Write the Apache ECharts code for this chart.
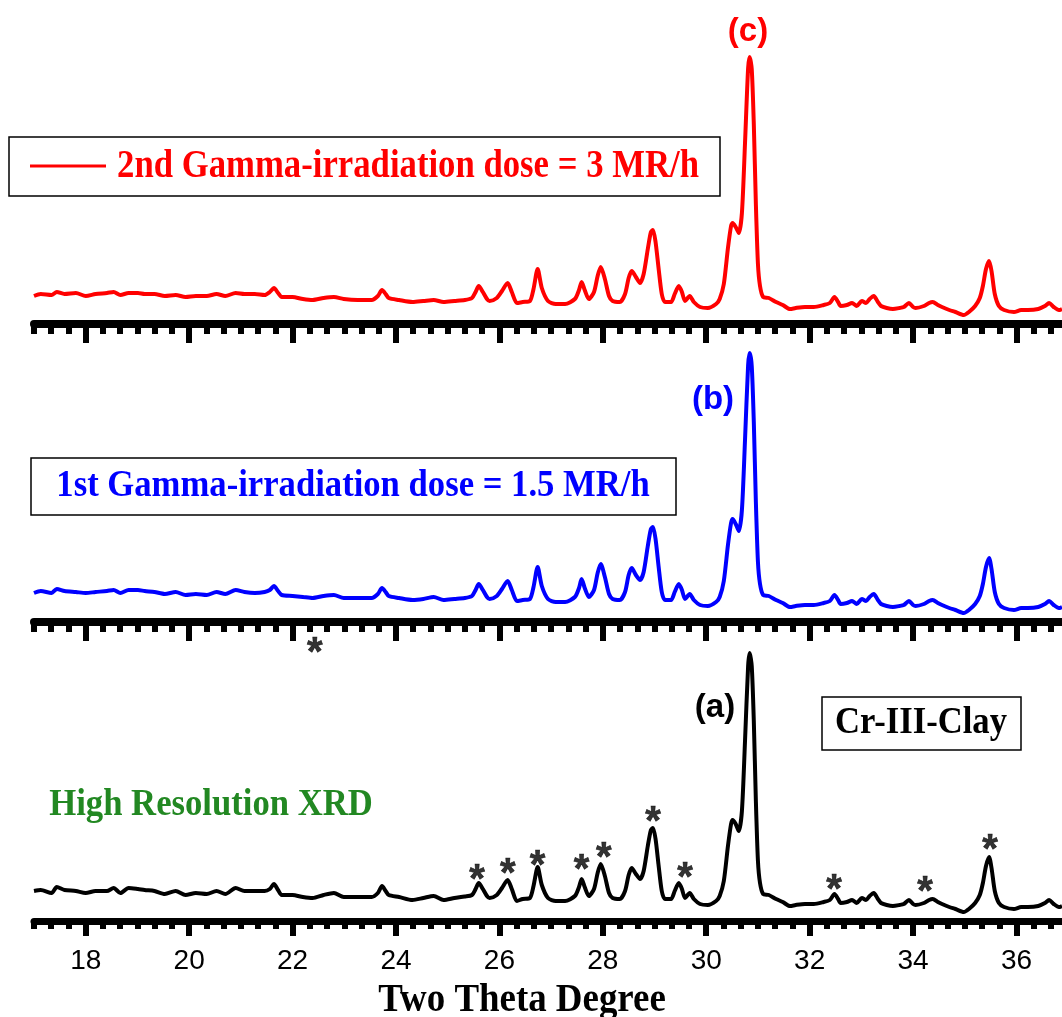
<!DOCTYPE html>
<html>
<head>
<meta charset="utf-8">
<script src="https://cdn.jsdelivr.net/npm/echarts@6/dist/echarts.min.js"></script>
<style>
html,body{margin:0;padding:0;background:#fff;}
#chart{width:1062px;height:1017px;}
</style>
</head>
<body>
<div id="chart"></div>
<script>
// ---- data ----
const twoTheta = [17.00,17.13,17.34,17.44,17.59,17.81,18.00,18.19,18.41,18.54,18.67,18.83,19.01,19.14,19.33,19.53,19.74,19.93,20.13,20.34,20.53,20.70,20.90,21.07,21.27,21.46,21.56,21.64,21.72,21.79,22.00,22.20,22.39,22.60,22.80,22.99,23.26,23.53,23.65,23.73,23.80,23.86,24.06,24.32,24.53,24.73,24.92,25.13,25.33,25.47,25.54,25.60,25.68,25.76,25.81,25.95,26.05,26.16,26.24,26.34,26.45,26.59,26.66,26.74,26.82,26.94,27.09,27.27,27.46,27.54,27.59,27.65,27.73,27.83,27.90,27.96,28.04,28.12,28.19,28.33,28.43,28.50,28.56,28.64,28.72,28.79,28.87,28.93,28.97,29.02,29.08,29.14,29.20,29.32,29.39,29.47,29.53,29.59,29.68,29.76,29.88,30.03,30.19,30.26,30.34,30.42,30.48,30.51,30.57,30.63,30.69,30.75,30.81,30.84,30.88,30.92,30.96,31.00,31.04,31.10,31.21,31.35,31.48,31.62,31.73,31.91,32.08,32.27,32.39,32.48,32.55,32.60,32.72,32.82,32.91,33.01,33.09,33.16,33.24,33.32,33.38,33.49,33.61,33.74,33.82,33.92,34.00,34.05,34.21,34.31,34.38,34.48,34.56,34.70,34.82,34.98,35.08,35.20,35.29,35.35,35.41,35.47,35.52,35.58,35.66,35.76,35.95,36.09,36.22,36.42,36.55,36.63,36.72,36.82,36.88];

// (a) Cr-III-Clay
const intensityA = [30,31,28,34,31,30,28,30,30,33,28,33,32,31,30,27,30,26,28,27,30,27,33,30,30,30,32,37,31,26,26,24,23,26,28,24,24,24,28,35,30,26,24,21,23,25,21,23,24.5,26,32,38,32,25,23,26,33,41,32,20,22,23,35,54,36,23,20,20,25,34,42,34,25,32,48,57,45,28,23,22,30,46,53,47,42,50,75,91,93,82,55,30,22,22,30,38,32,23,28,22,17,16,20,25,40,75,97,101,97,90,110,180,255,268,255,200,120,60,38,27,26,22,19,15,16,17,17,19,21,27,22,18,19,21,18,23,21,25,28,22,18,16,15,16,17,21,17,16,18,21,22,19,17,14,12,9,12,18,26,38,55,64,52,30,18,14,12,14,14,15,18,21,17,14,15];

// (b) 1st gamma dose
const intensityB = [29,31,29,33,31,30,29,30,31,32,29,32,32,31,30,28,30,27,28,27,30,28,32,30,29,30,32,36,31,27,26,25,24,26,27,24,24,24,28,34,30,26,24,22,23,25,22,23,24,26,32,38,32,25,23,26,33,41,32,21,22,23,35,55,36,23,20,20,25,34,43,34,25,32,49,58,45,28,23,22,30,47,54,47,42,50,76,93,95,83,55,30,22,22,30,38,32,23,28,22,17,16,20,25,41,77,99,103,98,91,112,182,257,269,256,200,120,60,38,27,26,22,19,15,16,17,17,19,21,27,22,18,19,21,18,23,21,25,28,22,18,16,15,16,17,21,17,16,18,21,22,19,17,14,12,9,12,18,26,38,55,64,52,30,18,14,12,14,14,15,18,21,17,14,15];

// (c) 2nd gamma dose
const intensityC = [28,30,29,32,30,31,28,30,31,32,29,31,31,30,30,28,29,27,28,28,30,28,31,30,30,29,32,36,31,27,27,25,24,26,27,25,24,24,28,34,30,26,24,22,23,24,22,23,24,26,32,38,32,25,23,26,33,41,32,21,22,23,35,55,36,23,20,20,25,34,42,34,25,32,48,57,45,28,23,22,30,46,53,47,41,50,75,92,94,82,55,30,22,22,30,38,32,23,28,22,17,16,20,25,40,76,98,101,97,91,111,181,256,267,255,200,120,60,38,27,26,22,19,15,16,17,17,19,21,27,22,18,19,21,18,23,21,25,28,22,18,16,15,16,17,21,17,16,18,21,22,19,17,14,12,9,12,18,26,38,55,63,52,30,18,14,12,14,14,15,18,21,17,14,15];

// peak markers (*) — positions in panel (a) data units
const starTheta  = [22.43,25.57,26.16,26.74,27.59,28.02,28.97,29.59,32.47,34.23,35.49];
const starHeight = [277,50,56,64,60,72,108,52,40,38,80];

const majorTicks = [18,20,22,24,26,28,30,32,34,36];
const xMin = 17, xMax = 36.88;
const minorTicks = [];
for (let k = 0; 17 + k / 3 <= xMax + 1e-9; k++) {
  if (k % 6 !== 3) minorTicks.push(+(17 + k / 3).toFixed(4));
}

// ---- chart ----
const chart = echarts.init(document.getElementById('chart'));
const serif = '"Liberation Serif","Times New Roman",serif';
const sans = '"Liberation Sans",Arial,sans-serif';

const grids = [
  {left: 34, right: 0, top: 44, height: 280},   // (c)
  {left: 34, right: 0, top: 342, height: 280},  // (b)
  {left: 34, right: 0, top: 641, height: 280}   // (a)
];

const xAxes = [], yAxes = [];
grids.forEach((g, i) => {
  const isBottom = i === 2;
  xAxes.push({
    gridIndex: i, type: 'value', min: xMin, max: xMax, position: 'bottom',
    axisLine: {show: true, onZero: false, lineStyle: {color: '#000', width: isBottom ? 7 : 8}},
    axisTick: {show: true, customValues: majorTicks, length: isBottom ? 15 : 19,
      lineStyle: {color: '#000', width: 6}},
    axisLabel: {show: isBottom, customValues: majorTicks, margin: 26,
      fontSize: 28, color: '#000', fontFamily: sans},
    splitLine: {show: false}
  });
  xAxes.push({
    gridIndex: i, type: 'value', min: xMin, max: xMax, position: 'bottom',
    axisLine: {show: false, onZero: false},
    axisTick: {show: true, customValues: minorTicks, length: isBottom ? 8 : 10,
      lineStyle: {color: '#000', width: 6}},
    axisLabel: {show: false},
    splitLine: {show: false}
  });
  yAxes.push({gridIndex: i, type: 'value', min: 0, max: 280, show: false});
});

function pairs(ys) { return twoTheta.map((x, k) => [x, ys[k]]); }

const series = [
  {type: 'line', xAxisIndex: 0, yAxisIndex: 0, data: pairs(intensityC), showSymbol: false, symbol: 'none',
   smooth: 0.25, lineStyle: {color: '#ff0000', width: 4}},
  {type: 'line', xAxisIndex: 2, yAxisIndex: 1, data: pairs(intensityB), showSymbol: false, symbol: 'none',
   smooth: 0.25, lineStyle: {color: '#0000ff', width: 4}},
  {type: 'line', xAxisIndex: 4, yAxisIndex: 2, data: pairs(intensityA), showSymbol: false, symbol: 'none',
   smooth: 0.25, lineStyle: {color: '#000000', width: 4}},
  {type: 'scatter', xAxisIndex: 4, yAxisIndex: 2, clip: false,
   data: starTheta.map((x, k) => [x, starHeight[k]]),
   symbol: 'circle', symbolSize: 0.01, itemStyle: {color: 'rgba(0,0,0,0)'},
   label: {show: true, formatter: '*', position: 'inside', offset: [0, 10],
     fontSize: 40, fontWeight: 'bold', color: '#000', fontFamily: sans,
     textBorderColor: '#000', textBorderWidth: 0.6},
   silent: true}
];

function serifText(txt, cx, cy, color, size, sx) {
  return {type: 'text', x: cx, y: cy, scaleX: sx, scaleY: 1,
    style: {text: txt, fill: color, font: 'bold ' + size + 'px ' + serif,
      textAlign: 'center', textVerticalAlign: 'middle'}};
}
function sansText(txt, cx, cy, color) {
  return {type: 'text', x: cx, y: cy,
    style: {text: txt, fill: color, font: 'bold 33px ' + sans,
      textAlign: 'center', textVerticalAlign: 'middle'}};
}

const graphic = [
  {type: 'rect', shape: {x: 9, y: 137, width: 711, height: 59},
   style: {fill: '#fff', stroke: '#000', lineWidth: 1.5}},
  {type: 'line', shape: {x1: 30, y1: 166, x2: 106, y2: 166},
   style: {stroke: '#ff0000', lineWidth: 3}},
  serifText('2nd Gamma-irradiation dose = 3 MR/h', 408, 167, '#ff0000', 39, 0.89),
  {type: 'rect', shape: {x: 31, y: 458, width: 645, height: 57},
   style: {fill: '#fff', stroke: '#000', lineWidth: 1.5}},
  serifText('1st Gamma-irradiation dose = 1.5 MR/h', 353, 486, '#0000ff', 38.5, 0.9),
  {type: 'rect', shape: {x: 822, y: 697, width: 199, height: 53},
   style: {fill: '#fff', stroke: '#000', lineWidth: 1.5}},
  serifText('Cr-III-Clay', 921, 723, '#000', 38.5, 0.9),
  serifText('High Resolution XRD', 211, 805, 'rgb(34,136,34)', 38.5, 0.9),
  serifText('Two Theta Degree', 522, 1000, '#000', 41, 0.9),
  sansText('(c)', 748, 32, '#ff0000'),
  sansText('(b)', 713, 400, '#0000ff'),
  sansText('(a)', 715, 708, '#000')
];

chart.setOption({
  animation: false,
  backgroundColor: '#fff',
  grid: grids,
  xAxis: xAxes,
  yAxis: yAxes,
  series: series,
  graphic: graphic
});
</script>
</body>
</html>
